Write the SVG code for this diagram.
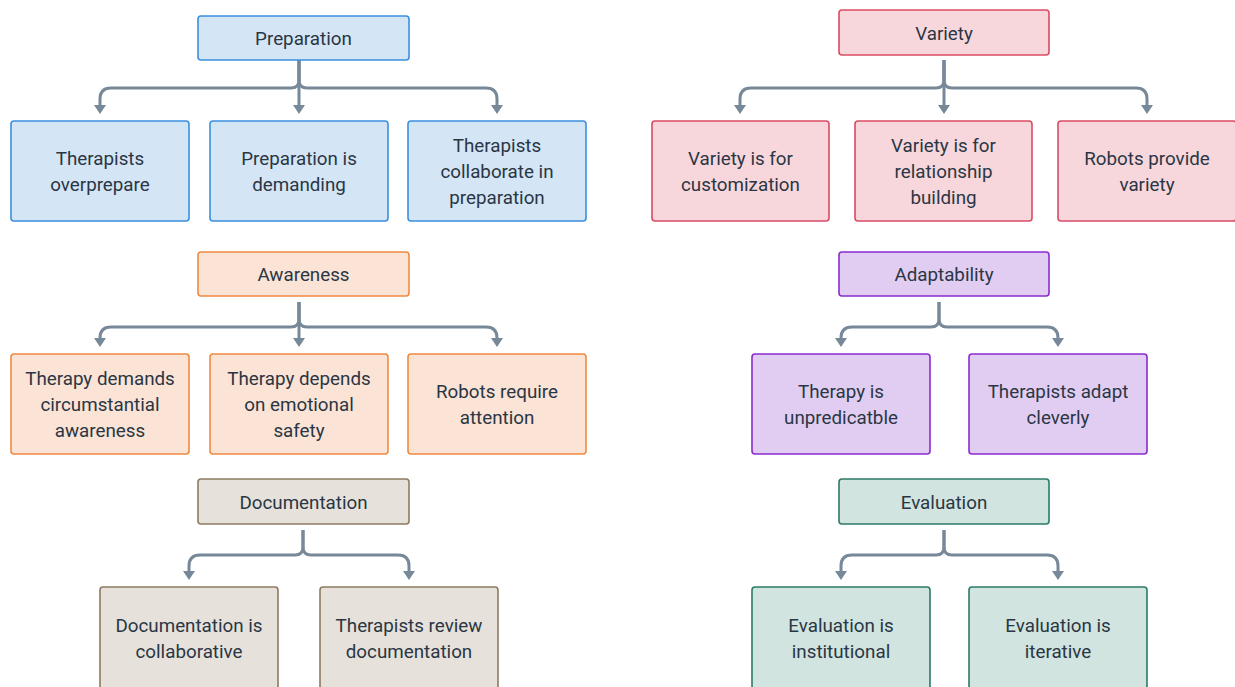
<svg xmlns="http://www.w3.org/2000/svg" width="1235" height="687" viewBox="0 0 1235 687">
<defs>
<marker id="arr" viewBox="0 0 9 12" markerWidth="9" markerHeight="12" refX="0.5" refY="6" orient="auto" markerUnits="userSpaceOnUse">
<path d="M0,0 L9,6 L0,12 z" fill="#778899"/>
</marker>
<style>
rect{stroke-width:1.6}
text{font-family:Roboto,"Noto Sans",sans-serif;font-size:18.8px;font-weight:400;fill:#2a3644;text-anchor:middle}
.c path{fill:none;stroke:#778899;stroke-width:3;marker-end:url(#arr)}
.blue rect{fill:#d4e5f5;stroke:#3b8fe0}
.red rect{fill:#f8d7dc;stroke:#d94c63}
.orange rect{fill:#fbe3d5;stroke:#f08a40}
.purple rect{fill:#e2cdf2;stroke:#8a2bcf}
.tan rect{fill:#e6e2db;stroke:#8c7b60}
.green rect{fill:#d1e4df;stroke:#2b7a68}
</style>
</defs>
<rect width="1235" height="687" fill="#ffffff"/>
<g class="c" id="connectors">
<path d="M299,60 L299,80 Q299,88 291,88 L111,88 Q100,88 100,99 L100,105.5"/>
<path d="M299,60 L299,105.5"/>
<path d="M299,60 L299,80 Q299,88 307,88 L486,88 Q497,88 497,99 L497,105.5"/>
<path d="M944,60 L944,80 Q944,88 936,88 L751,88 Q740,88 740,99 L740,105.5"/>
<path d="M944,60 L944,105.5"/>
<path d="M944,60 L944,80 Q944,88 952,88 L1136,88 Q1147,88 1147,99 L1147,105.5"/>
<path d="M299,302 L299,319 Q299,327 291,327 L111,327 Q100,327 100,338 L100,338.5"/>
<path d="M299,302 L299,338.5"/>
<path d="M299,302 L299,319 Q299,327 307,327 L486,327 Q497,327 497,338 L497,338.5"/>
<path d="M939,302 L939,319 Q939,327 931,327 L852,327 Q841,327 841,338 L841,338.5"/>
<path d="M939,302 L939,319 Q939,327 947,327 L1047,327 Q1058,327 1058,338 L1058,338.5"/>
<path d="M303,530 L303,547 Q303,555 295,555 L200,555 Q189,555 189,566 L189,571.5"/>
<path d="M303,530 L303,547 Q303,555 311,555 L398,555 Q409,555 409,566 L409,571.5"/>
<path d="M944,530 L944,547 Q944,555 936,555 L852,555 Q841,555 841,566 L841,571.5"/>
<path d="M944,530 L944,547 Q944,555 952,555 L1047,555 Q1058,555 1058,566 L1058,571.5"/>
</g>
<g id="preparation" class="blue"><rect x="198" y="16" width="211" height="44" rx="3"/><text x="303.5" y="45">Preparation</text></g>
<g id="therapists-overprepare" class="blue"><rect x="11" y="121" width="178" height="100" rx="3"/><text x="100" y="165">Therapists</text><text x="100" y="191">overprepare</text></g>
<g id="preparation-demanding" class="blue"><rect x="210" y="121" width="178" height="100" rx="3"/><text x="299" y="165">Preparation is</text><text x="299" y="191">demanding</text></g>
<g id="therapists-collaborate" class="blue"><rect x="408" y="121" width="178" height="100" rx="3"/><text x="497" y="152">Therapists</text><text x="497" y="178">collaborate in</text><text x="497" y="204">preparation</text></g>
<g id="variety" class="red"><rect x="839" y="10" width="210" height="45" rx="3"/><text x="944" y="39.5">Variety</text></g>
<g id="variety-customization" class="red"><rect x="652" y="121" width="177" height="100" rx="3"/><text x="740.5" y="165">Variety is for</text><text x="740.5" y="191">customization</text></g>
<g id="variety-relationship" class="red"><rect x="855" y="121" width="177" height="100" rx="3"/><text x="943.5" y="152">Variety is for</text><text x="943.5" y="178">relationship</text><text x="943.5" y="204">building</text></g>
<g id="robots-variety" class="red"><rect x="1058" y="121" width="178" height="100" rx="3"/><text x="1147" y="165">Robots provide</text><text x="1147" y="191">variety</text></g>
<g id="awareness" class="orange"><rect x="198" y="252" width="211" height="44" rx="3"/><text x="303.5" y="281">Awareness</text></g>
<g id="therapy-demands" class="orange"><rect x="11" y="354" width="178" height="100" rx="3"/><text x="100" y="385">Therapy demands</text><text x="100" y="411">circumstantial</text><text x="100" y="437">awareness</text></g>
<g id="therapy-depends" class="orange"><rect x="210" y="354" width="178" height="100" rx="3"/><text x="299" y="385">Therapy depends</text><text x="299" y="411">on emotional</text><text x="299" y="437">safety</text></g>
<g id="robots-attention" class="orange"><rect x="408" y="354" width="178" height="100" rx="3"/><text x="497" y="398">Robots require</text><text x="497" y="424">attention</text></g>
<g id="adaptability" class="purple"><rect x="839" y="252" width="210" height="44" rx="3"/><text x="944" y="281">Adaptability</text></g>
<g id="therapy-unpredictable" class="purple"><rect x="752" y="354" width="178" height="100" rx="3"/><text x="841" y="398">Therapy is</text><text x="841" y="424">unpredicatble</text></g>
<g id="therapists-adapt" class="purple"><rect x="969" y="354" width="178" height="100" rx="3"/><text x="1058" y="398">Therapists adapt</text><text x="1058" y="424">cleverly</text></g>
<g id="documentation" class="tan"><rect x="198" y="479" width="211" height="45" rx="3"/><text x="303.5" y="508.5">Documentation</text></g>
<g id="documentation-collaborative" class="tan"><rect x="100" y="587" width="178" height="102" rx="3"/><text x="189" y="632">Documentation is</text><text x="189" y="658">collaborative</text></g>
<g id="therapists-review" class="tan"><rect x="320" y="587" width="178" height="102" rx="3"/><text x="409" y="632">Therapists review</text><text x="409" y="658">documentation</text></g>
<g id="evaluation" class="green"><rect x="839" y="479" width="210" height="45" rx="3"/><text x="944" y="508.5">Evaluation</text></g>
<g id="evaluation-institutional" class="green"><rect x="752" y="587" width="178" height="102" rx="3"/><text x="841" y="632">Evaluation is</text><text x="841" y="658">institutional</text></g>
<g id="evaluation-iterative" class="green"><rect x="969" y="587" width="178" height="102" rx="3"/><text x="1058" y="632">Evaluation is</text><text x="1058" y="658">iterative</text></g>
</svg>
